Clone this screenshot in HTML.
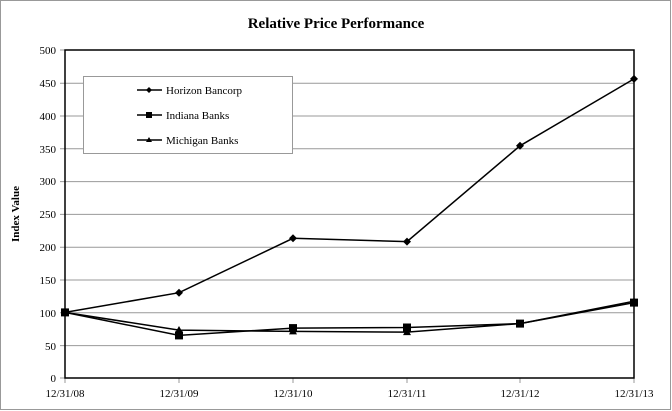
<!DOCTYPE html>
<html><head><style>body{margin:0;background:#fff}svg{display:block}text{font-family:"Liberation Serif",serif}</style></head><body>
<svg width="672" height="411" xmlns="http://www.w3.org/2000/svg">
<rect x="0.5" y="0.5" width="670" height="409" fill="#fff" stroke="#999"/>
<text x="336" y="28" text-anchor="middle" font-size="15" font-weight="bold">Relative Price Performance</text>
<g stroke="#999" stroke-width="1">
<line x1="60" x2="634" y1="83.2" y2="83.2"/><line x1="60" x2="634" y1="116" y2="116"/><line x1="60" x2="634" y1="148.8" y2="148.8"/><line x1="60" x2="634" y1="181.6" y2="181.6"/><line x1="60" x2="634" y1="214.4" y2="214.4"/><line x1="60" x2="634" y1="247.2" y2="247.2"/><line x1="60" x2="634" y1="280" y2="280"/><line x1="60" x2="634" y1="312.8" y2="312.8"/><line x1="60" x2="634" y1="345.6" y2="345.6"/>
<line x1="60" x2="65" y1="50" y2="50"/><line x1="60" x2="65" y1="378" y2="378"/>
<line x1="179" x2="179" y1="378" y2="383"/><line x1="293" x2="293" y1="378" y2="383"/><line x1="407" x2="407" y1="378" y2="383"/><line x1="520" x2="520" y1="378" y2="383"/><line x1="634" x2="634" y1="378" y2="383"/><line x1="65" x2="65" y1="378" y2="383"/>
</g>
<rect x="65" y="50" width="569" height="328" fill="none" stroke="#000" stroke-width="1.5"/>
<g font-size="11" text-anchor="end">
<text x="56" y="54">500</text><text x="56" y="87">450</text><text x="56" y="120">400</text><text x="56" y="153">350</text><text x="56" y="185">300</text><text x="56" y="218">250</text><text x="56" y="251">200</text><text x="56" y="284">150</text><text x="56" y="317">100</text><text x="56" y="350">50</text><text x="56" y="382">0</text>
</g>
<g font-size="11" text-anchor="middle">
<text x="65" y="397">12/31/08</text><text x="179" y="397">12/31/09</text><text x="293" y="397">12/31/10</text><text x="407" y="397">12/31/11</text><text x="520" y="397">12/31/12</text><text x="634" y="397">12/31/13</text>
</g>
<text transform="translate(19,214) rotate(-90)" font-size="11" font-weight="bold" text-anchor="middle">Index Value</text>
<rect x="83.5" y="76.5" width="209" height="77" fill="#fff" stroke="#999"/>
<g stroke="#000" stroke-width="1.5" fill="none">
<polyline points="65,312.4 179,292.7 293,238.3 407,241.6 520,145.8 634,78.9"/>
<polyline points="65,312.4 179,335.4 293,328.1 407,327.5 520,323.6 634,302.6"/>
<polyline points="65,312.4 179,330.1 293,331.4 407,332.1 520,323.6 634,301.2"/>
<line x1="137" x2="162" y1="90" y2="90"/><line x1="137" x2="162" y1="115" y2="115"/><line x1="137" x2="162" y1="140" y2="140"/>
</g>
<g fill="#000">
<path d="M65,308.4l4,4l-4,4l-4,-4z M179,288.7l4,4l-4,4l-4,-4z M293,234.3l4,4l-4,4l-4,-4z M407,237.6l4,4l-4,4l-4,-4z M520,141.8l4,4l-4,4l-4,-4z M634,74.9l4,4l-4,4l-4,-4z M149,87l3,3l-3,3l-3,-3z"/>
<rect x="61" y="308.4" width="8" height="8"/><rect x="175" y="331.4" width="8" height="8"/><rect x="289" y="324.1" width="8" height="8"/><rect x="403" y="323.5" width="8" height="8"/><rect x="516" y="319.6" width="8" height="8"/><rect x="630" y="298.6" width="8" height="8"/><rect x="146" y="112" width="6" height="6"/>
<path d="M179,326l4,7h-8z M293,327.4l4,7h-8z M407,328.1l4,7h-8z M634,297.2l4,7h-8z M149,137l3,5h-6z"/>
</g>
<g font-size="11">
<text x="166" y="94">Horizon Bancorp</text><text x="166" y="119">Indiana Banks</text><text x="166" y="144">Michigan Banks</text>
</g>
</svg>
</body></html>
